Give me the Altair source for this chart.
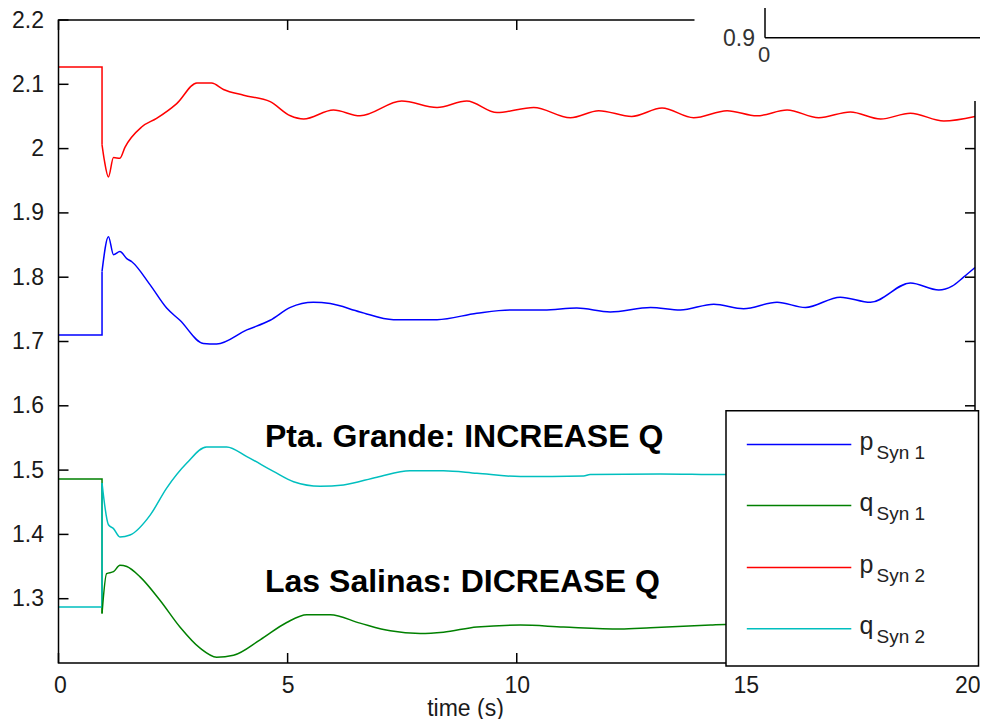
import altair as alt
import pandas as pd

# ---------------- data ----------------
series = ["p Syn 1", "q Syn 1", "p Syn 2", "q Syn 2"]
colors = ["#0000FF", "#008000", "#FF0000", "#00BFBF"]

t_p1 = [0, 0.95, 0.95, 1.09, 1.20, 1.34, 1.49, 1.60, 2.00, 2.36, 2.65, 3.16, 3.45, 4.11, 4.62,
        5.06, 5.56, 5.93, 6.58, 7.31, 8.26, 9.13, 9.86, 10.59, 11.31, 12.04, 12.92, 13.57, 14.30,
        14.95, 15.68, 16.30, 17.06, 17.72, 18.59, 19.21, 19.50, 19.75, 20.0]
v_p1 = [1.710, 1.710, 1.809, 1.863, 1.835, 1.840, 1.829, 1.824, 1.788, 1.752, 1.733, 1.697, 1.696,
        1.718, 1.733, 1.753, 1.761, 1.759, 1.746, 1.734, 1.734, 1.744, 1.749, 1.749, 1.752, 1.746,
        1.753, 1.749, 1.758, 1.751, 1.761, 1.753, 1.769, 1.761, 1.791, 1.780, 1.786, 1.800, 1.815]

t_q1 = [0, 0.95, 0.95, 1.05, 1.20, 1.34, 1.49, 1.78, 2.21, 2.65, 3.09, 3.45, 3.82, 4.40, 4.98,
        5.42, 5.93, 6.58, 7.24, 7.89, 8.40, 9.13, 10.08, 11.02, 12.26, 12.92, 14.23, 14.56, 16.0,
        18.0, 20.0]
v_q1 = [1.486, 1.486, 1.277, 1.339, 1.342, 1.352, 1.350, 1.334, 1.298, 1.256, 1.223, 1.209, 1.212,
        1.236, 1.263, 1.275, 1.275, 1.262, 1.250, 1.246, 1.248, 1.256, 1.259, 1.256, 1.253, 1.255,
        1.259, 1.260, 1.258, 1.259, 1.258]

t_p2 = [0, 0.95, 0.95, 1.00, 1.09, 1.20, 1.34, 1.45, 1.82, 2.14, 2.58, 3.02, 3.34, 3.60, 4.04,
        4.62, 5.06, 5.35, 6.00, 6.58, 7.49, 8.26, 8.91, 9.57, 10.37, 11.17, 11.79, 12.51, 13.17,
        13.86, 14.59, 15.24, 15.90, 16.59, 17.28, 17.94, 18.59, 19.32, 20.0]
v_p2 = [2.127, 2.127, 2.006, 1.982, 1.956, 1.986, 1.985, 2.002, 2.034, 2.047, 2.070, 2.102, 2.102,
        2.092, 2.083, 2.073, 2.051, 2.046, 2.060, 2.051, 2.074, 2.064, 2.074, 2.056, 2.064, 2.048,
        2.059, 2.050, 2.063, 2.048, 2.059, 2.051, 2.060, 2.048, 2.057, 2.046, 2.055, 2.043, 2.050]

t_q2 = [0, 0.95, 0.95, 1.09, 1.20, 1.34, 1.56, 2.00, 2.36, 2.80, 3.23, 3.67, 4.11, 4.69, 5.13,
        5.71, 6.22, 6.95, 7.67, 8.40, 9.13, 10.08, 11.46, 11.60, 13.13, 14.50, 16.0, 18.0, 20.0]
v_q2 = [1.287, 1.287, 1.480, 1.415, 1.409, 1.396, 1.399, 1.430, 1.472, 1.511, 1.536, 1.536, 1.521,
        1.498, 1.482, 1.475, 1.477, 1.489, 1.499, 1.499, 1.495, 1.490, 1.491, 1.493, 1.494, 1.493,
        1.493, 1.493, 1.493]

x_ticks = [0, 5, 10, 15, 20]
y_ticks = [1.3, 1.4, 1.5, 1.6, 1.7, 1.8, 1.9, 2.0, 2.1, 2.2]

legend_main = ["p", "q", "p", "q"]
legend_sub = ["Syn 1", "Syn 1", "Syn 2", "Syn 2"]

label_pg = "Pta. Grande: INCREASE Q"
label_ls = "Las Salinas: DICREASE Q"

# ---------------- build tables ----------------
pre_rows, post_rows = [], []
for name, ts, vs in zip(series, [t_p1, t_q1, t_p2, t_q2], [v_p1, v_q1, v_p2, v_q2]):
    for i, (t, v) in enumerate(zip(ts, vs)):
        row = {"series": name, "t": t, "v": v, "i": i}
        if i <= 2:
            pre_rows.append(row)
        if i >= 2:
            post_rows.append(row)
pre_df = pd.DataFrame(pre_rows)
post_df = pd.DataFrame(post_rows)

W, H = 916.5, 643
FONT = "Liberation Sans"

xscale = alt.Scale(domain=[0, 20], nice=False, zero=False)
yscale = alt.Scale(domain=[1.2, 2.2], nice=False, zero=False)
xaxis = alt.Axis(values=x_ticks, format="d", ticks=False, domain=False, grid=False,
                 labelFontSize=23, labelFont=FONT, labelColor="#1a1a1a", labelPadding=11,
                 labelFlush=True, labelFlushOffset=5,
                 title="time (s)", titleFont=FONT, titleFontSize=23,
                 titleFontWeight="normal", titleColor="#1a1a1a", titleX=406.5, titleY=45,
                 titleBaseline="middle", titleAlign="center")
yaxis = alt.Axis(values=y_ticks, format=".1~f", ticks=False, domain=False, grid=False,
                 labelFontSize=23, labelFont=FONT, labelColor="#1a1a1a", labelPadding=15,
                 title=None)


def X(field="t"):
    return alt.X(f"{field}:Q", scale=xscale, axis=xaxis)


def Y(field="v"):
    return alt.Y(f"{field}:Q", scale=yscale, axis=yaxis)


color = alt.Color("series:N", scale=alt.Scale(domain=series, range=colors), legend=None)

pre = alt.Chart(pre_df).mark_line(strokeWidth=1.5, interpolate="linear").encode(
    x=X(), y=Y(), color=color, detail="series:N", order="i:Q")
post = alt.Chart(post_df).mark_line(strokeWidth=1.5, interpolate="monotone").encode(
    x=X(), y=Y(), color=color, detail="series:N", order="i:Q")

dummy = alt.Data(values=[{"a": 1}])

frame = alt.Chart(dummy).mark_rect(fill=None, stroke="black", strokeWidth=1.5).encode(
    x=alt.value(0), x2=alt.value(W), y=alt.value(0), y2=alt.value(H))

ydf = pd.DataFrame({"v": y_ticks})
xdf = pd.DataFrame({"t": x_ticks})
tick_style = dict(color="black", strokeWidth=1.5)
lt = alt.Chart(ydf).mark_rule(**tick_style).encode(y=Y(), x=alt.value(0), x2=alt.value(10))
rt = alt.Chart(ydf).mark_rule(**tick_style).encode(y=Y(), x=alt.value(W - 10), x2=alt.value(W))
bt = alt.Chart(xdf).mark_rule(**tick_style).encode(x=X(), y=alt.value(H - 10), y2=alt.value(H))
tt = alt.Chart(xdf).mark_rule(**tick_style).encode(x=X(), y=alt.value(0), y2=alt.value(10))

ann1 = alt.Chart(dummy).mark_text(text=label_pg, font=FONT, fontSize=32, fontWeight="bold",
                                  align="left", baseline="alphabetic", color="black").encode(
    x=alt.value(206.5), y=alt.value(427))
ann2 = alt.Chart(dummy).mark_text(text=label_ls, font=FONT, fontSize=32, fontWeight="bold",
                                  align="left", baseline="alphabetic", color="black").encode(
    x=alt.value(206.5), y=alt.value(572))

# manual legend
legend_layers = [
    alt.Chart(dummy).mark_rect(fill="white", stroke="black", strokeWidth=1.5).encode(
        x=alt.value(667.5), x2=alt.value(920), y=alt.value(390.7), y2=alt.value(646))
]
leg_y = [424.6, 485.5, 547.5, 608.8]
for k in range(4):
    yy = leg_y[k]
    legend_layers.append(alt.Chart(dummy).mark_rule(color=colors[k], strokeWidth=1.5).encode(
        x=alt.value(688.3), x2=alt.value(792.8), y=alt.value(yy)))
    legend_layers.append(alt.Chart(dummy).mark_text(
        text=legend_main[k], font=FONT, fontSize=25, align="left", baseline="alphabetic",
        color="#222222").encode(x=alt.value(801), y=alt.value(yy + 5.6)))
    legend_layers.append(alt.Chart(dummy).mark_text(
        text=legend_sub[k], font=FONT, fontSize=19, align="left", baseline="alphabetic",
        color="#222222").encode(x=alt.value(818), y=alt.value(yy + 14)))

# partially visible inset at the top right
inset = [
    alt.Chart(dummy).mark_rect(fill="white", stroke=None).encode(
        x=alt.value(636), x2=alt.value(925), y=alt.value(-30), y2=alt.value(81)),
    alt.Chart(dummy).mark_rule(color="black", strokeWidth=1.5).encode(
        x=alt.value(706.5), y=alt.value(-30), y2=alt.value(17.7)),
    alt.Chart(dummy).mark_rule(color="black", strokeWidth=1.5).encode(
        x=alt.value(706.5), x2=alt.value(925), y=alt.value(17.7)),
    alt.Chart(dummy).mark_text(text="0.9", font=FONT, fontSize=23, align="right",
                               baseline="middle", color="#333333").encode(
        x=alt.value(696.5), y=alt.value(18.5)),
    alt.Chart(dummy).mark_text(text="0", font=FONT, fontSize=22, align="center",
                               baseline="middle", color="#333333").encode(
        x=alt.value(705.7), y=alt.value(34.5)),
]

chart = alt.layer(pre, post, frame, lt, rt, bt, tt, ann1, ann2, *legend_layers, *inset).properties(
    width=W, height=H,
    padding={"left": 50.5, "top": 12, "right": 5, "bottom": 56},
    autosize=alt.AutoSizeParams(type="none"),
    background="white",
).configure_view(stroke=None)

chart.save("out.html", embed_options={"renderer": "svg", "actions": False})
